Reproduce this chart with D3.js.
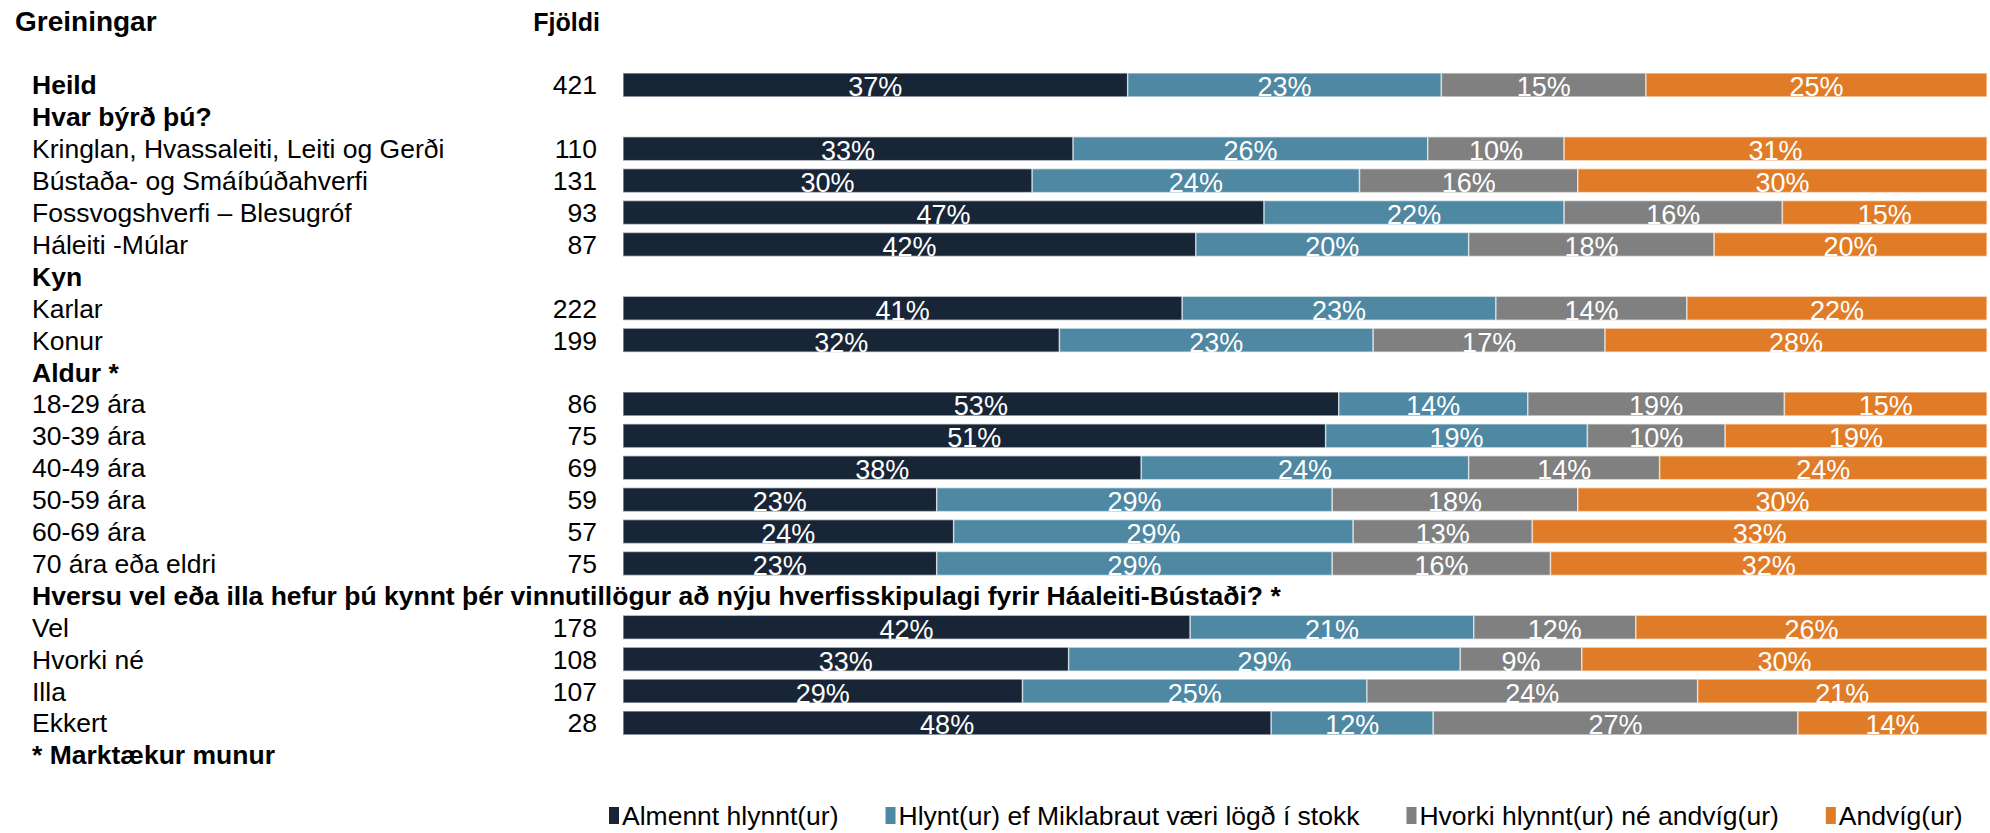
<!DOCTYPE html>
<html>
<head>
<meta charset="utf-8">
<script src="https://cdn.jsdelivr.net/npm/d3@7"></script>
<style>
body { margin: 0; background: #fff; }
text { font-family: "Liberation Sans", Arial, sans-serif; }
</style>
</head>
<body>
<svg></svg>
<script>
// row labels, in drawing order (group headers have no bar)
var rowLabels = ["Heild", "Hvar býrð þú?", "Kringlan, Hvassaleiti, Leiti og Gerði", "Bústaða- og Smáíbúðahverfi",
    "Fossvogshverfi – Blesugróf", "Háleiti -Múlar", "Kyn", "Karlar", "Konur", "Aldur *",
    "18-29 ára", "30-39 ára", "40-49 ára", "50-59 ára", "60-69 ára", "70 ára eða eldri",
    "Hversu vel eða illa hefur þú kynnt þér vinnutillögur að nýju hverfisskipulagi fyrir Háaleiti-Bústaði? *",
    "Vel", "Hvorki né", "Illa", "Ekkert", "* Marktækur munur"];
var boldRows = ["Heild", "Hvar býrð þú?", "Kyn", "Aldur *",
    "Hversu vel eða illa hefur þú kynnt þér vinnutillögur að nýju hverfisskipulagi fyrir Háaleiti-Bústaði? *",
    "* Marktækur munur"];

var series = ["Almennt hlynnt(ur)", "Hlynt(ur) ef Miklabraut væri lögð í stokk", "Hvorki hlynnt(ur) né andvíg(ur)", "Andvíg(ur)"];
var colors = ["#172537", "#4e88a2", "#808080", "#e07c28"];

var barRows = ["Heild", "Kringlan, Hvassaleiti, Leiti og Gerði", "Bústaða- og Smáíbúðahverfi", "Fossvogshverfi – Blesugróf",
    "Háleiti -Múlar", "Karlar", "Konur", "18-29 ára", "30-39 ára", "40-49 ára", "50-59 ára", "60-69 ára",
    "70 ára eða eldri", "Vel", "Hvorki né", "Illa", "Ekkert"];
var counts = [421, 110, 131, 93, 87, 222, 199, 86, 75, 69, 59, 57, 75, 178, 108, 107, 28];
var almennt = [37, 33, 30, 47, 42, 41, 32, 53, 51, 38, 23, 24, 23, 42, 33, 29, 48];
var efStokk = [23, 26, 24, 22, 20, 23, 23, 14, 19, 24, 29, 29, 29, 21, 29, 25, 12];
var hvorki = [15, 10, 16, 16, 18, 14, 17, 19, 10, 14, 18, 13, 16, 12, 9, 24, 27];
var andvig = [25, 31, 30, 15, 20, 22, 28, 15, 19, 24, 30, 33, 32, 26, 30, 21, 14];

var width = 1990, height = 833;
var svg = d3.select("svg").attr("width", width).attr("height", height);

var table = barRows.map(function(r, i) {
    var o = { label: r, n: counts[i] };
    o[series[0]] = almennt[i];
    o[series[1]] = efStokk[i];
    o[series[2]] = hvorki[i];
    o[series[3]] = andvig[i];
    return o;
});

var y = d3.scaleBand()
    .domain(rowLabels)
    .range([69, 69 + rowLabels.length * 31.9])
    .paddingInner(0.25)
    .paddingOuter(0.125);

var x = d3.scaleLinear()
    .domain([0, 1])
    .range([623, 1987]);

var stacked = d3.stack()
    .keys(series)
    .offset(d3.stackOffsetExpand)(table);

var fontSize = 26.5;

// headers
svg.append("text").attr("x", 15).attr("y", 31)
    .attr("font-size", 28).attr("font-weight", "bold").attr("fill", "#000")
    .text("Greiningar");
svg.append("text").attr("x", 600).attr("y", 31).attr("text-anchor", "end")
    .attr("font-size", 25).attr("font-weight", "bold").attr("fill", "#000")
    .text("Fjöldi");

// row labels
svg.selectAll(".rowlabel")
    .data(rowLabels)
    .enter()
    .append("text")
    .attr("class", "rowlabel")
    .attr("x", 32)
    .attr("y", d => y(d) + y.bandwidth() / 2 + 9.5)
    .attr("font-size", fontSize)
    .attr("font-weight", d => boldRows.indexOf(d) >= 0 ? "bold" : "normal")
    .attr("fill", "#000")
    .text(d => d);

// counts
svg.selectAll(".count")
    .data(table)
    .enter()
    .append("text")
    .attr("class", "count")
    .attr("x", 597)
    .attr("y", d => y(d.label) + y.bandwidth() / 2 + 9.5)
    .attr("text-anchor", "end")
    .attr("font-size", fontSize)
    .attr("fill", "#000")
    .text(d => d.n);

// bars
var layers = svg.selectAll(".layer")
    .data(stacked)
    .enter()
    .append("g")
    .attr("class", "layer")
    .attr("fill", (d, i) => colors[i]);

layers.selectAll("rect")
    .data(d => d)
    .enter()
    .append("rect")
    .attr("x", d => x(d[0]))
    .attr("y", d => y(d.data.label))
    .attr("width", d => x(d[1]) - x(d[0]))
    .attr("height", y.bandwidth())
    .attr("stroke", "rgba(255,255,255,0.55)")
    .attr("stroke-width", 1.5);

layers.selectAll(".pct")
    .data((d, i) => d.map(p => ({ p: p, key: d.key })))
    .enter()
    .append("text")
    .attr("class", "pct")
    .attr("x", d => (x(d.p[0]) + x(d.p[1])) / 2)
    .attr("y", d => y(d.p.data.label) + y.bandwidth() - 0.5)
    .attr("text-anchor", "middle")
    .attr("font-size", 27)
    .attr("fill", "#fff")
    .text(d => d.p.data[d.key] + "%");

// legend
var legend = svg.append("g").attr("class", "legend");
var lx = 609;
series.forEach(function(s, i) {
    legend.append("rect")
        .attr("x", lx).attr("y", 807)
        .attr("width", 10).attr("height", 17)
        .attr("fill", colors[i]);
    var t = legend.append("text")
        .attr("x", lx + 13).attr("y", 825)
        .attr("font-size", fontSize)
        .attr("fill", "#000")
        .text(s);
    lx = lx + 13 + t.node().getComputedTextLength() + 47;
});
</script>
</body>
</html>
